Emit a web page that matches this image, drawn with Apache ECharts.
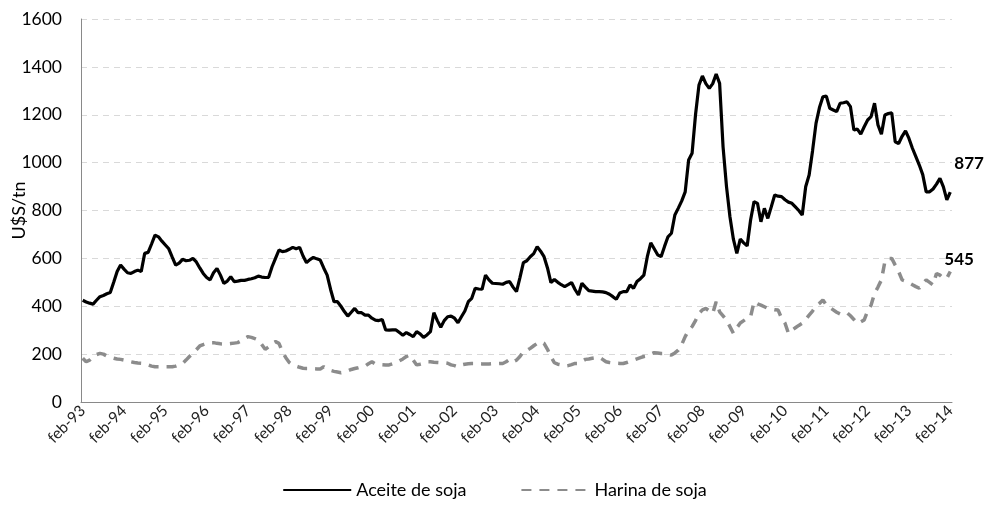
<!DOCTYPE html>
<html lang="es">
<head>
	<meta charset="UTF-8">
	<title>Aceite y harina de soja</title>
	<script src="https://cdn.jsdelivr.net/npm/echarts@6/dist/echarts.min.js"></script>
	<style>
		html, body { margin: 0; padding: 0; background: #ffffff; }
		#main { width: 989px; height: 514px; }
	</style>
</head>
<body>
<div id="main"></div>
<script>
// meses (la serie arranca en feb-93 y termina en feb-14)
var mesesNombres = ['ene','feb','mar','abr','may','jun','jul','ago','sep','oct','nov','dic'];
var anioInicio = 1993, mesInicio = 1, cantMeses = 253;

// U$S/tn, valores, un renglon por año (feb a ene)
var aceite = [
	425, 418, 413, 409, 425, 440, 445, 452, 457, 500, 545, 572,
	555, 540, 537, 545, 551, 545, 621, 625, 660, 697, 690, 672,
	656, 640, 605, 572, 580, 596, 590, 592, 600, 585, 560, 537,
	520, 510, 540, 558, 530, 496, 505, 523, 503, 505, 508, 508,
	512, 515, 519, 526, 522, 520, 521, 565, 600, 635, 628, 631,
	638, 646, 640, 646, 610, 582, 595, 604, 598, 593, 560, 530,
	470, 419, 419, 400, 378, 359, 375, 391, 373, 373, 363, 363,
	350, 342, 340, 345, 301, 300, 301, 301, 290, 279, 290, 282,
	273, 294, 285, 270, 280, 294, 373, 340, 312, 340, 356, 359,
	350, 331, 356, 380, 419, 433, 475, 472, 471, 530, 510, 496,
	495, 494, 492, 500, 503, 480, 461, 520, 582, 590, 607, 620,
	649, 630, 607, 560, 499, 512, 500, 490, 482, 490, 499, 470,
	447, 496, 480, 465, 463, 461, 461, 460, 457, 450, 440, 429,
	455, 461, 461, 489, 475, 503, 515, 530, 607, 665, 640, 615,
	607, 650, 690, 705, 781, 810, 840, 878, 1011, 1039, 1200, 1324,
	1362, 1330, 1310, 1330, 1370, 1331, 1066, 900, 774, 680, 621, 680,
	665, 652, 760, 837, 830, 753, 809, 767, 815, 865, 860, 858,
	845, 835, 830, 815, 800, 781, 899, 948, 1050, 1164, 1230, 1275,
	1278, 1227, 1220, 1213, 1248, 1250, 1254, 1234, 1136, 1140, 1119, 1150,
	1178, 1192, 1248, 1157, 1119, 1199, 1205, 1208, 1087, 1080, 1110, 1133,
	1101, 1060, 1025, 990, 950, 878, 878, 890, 910, 934, 899, 844,
	877
];
var harina = [
	183, 168, 175, 190, 198, 203, 200, 192, 187, 183, 180, 178,
	175, 170, 168, 165, 163, 162, 161, 155, 150, 147, 147, 147,
	147, 147, 147, 150, 155, 161, 175, 190, 203, 218, 234, 240,
	245, 248, 248, 245, 243, 242, 242, 244, 246, 248, 255, 265,
	273, 270, 265, 259, 240, 220, 230, 245, 252, 245, 210, 185,
	165, 155, 150, 145, 141, 140, 140, 139, 138, 138, 147, 138,
	132, 128, 125, 122, 125, 130, 136, 140, 143, 147, 150, 160,
	168, 159, 157, 156, 155, 155, 160, 168, 172, 180, 190, 196,
	175, 155, 158, 162, 168, 168, 166, 165, 164, 164, 162, 155,
	152, 147, 155, 158, 160, 161, 161, 160, 159, 159, 159, 160,
	160, 161, 161, 168, 178, 168, 175, 190, 210, 215, 224, 235,
	245, 252, 245, 220, 190, 164, 158, 155, 150, 152, 156, 161,
	161, 170, 178, 180, 183, 185, 187, 178, 168, 165, 163, 162,
	161, 161, 165, 170, 175, 180, 185, 190, 192, 200, 206, 205,
	203, 203, 200, 196, 205, 217, 240, 273, 300, 315, 340, 370,
	385, 391, 380, 370, 419, 377, 360, 342, 315, 287, 310, 330,
	340, 350, 356, 419, 410, 405, 398, 391, 388, 385, 384, 350,
	329, 287, 300, 310, 320, 329, 345, 363, 380, 400, 412, 426,
	405, 395, 385, 375, 368, 370, 373, 360, 345, 329, 335, 343,
	380, 405, 454, 480, 510, 586, 600, 600, 572, 545, 510, 505,
	498, 490, 482, 475, 495, 510, 500, 489, 537, 530, 517, 517,
	545
];
var yTicks = [0, 200, 400, 600, 800, 1000, 1200, 1400, 1600];

var fuente = 'Lato, "Noto Sans", sans-serif';

// armo las categorias mensuales (ej: feb-93)
var meses = [];
for (var i = 0; i < cantMeses; i++) {
	var idx = mesInicio + i;
	var anio = anioInicio + Math.floor(idx / 12);
	meses.push(mesesNombres[idx % 12] + '-' + String(anio).slice(2));
}

var myChart = echarts.init(document.getElementById('main'));
var option = {
	animation: false,
	textStyle: { fontFamily: fuente },
	grid: { left: 81, right: 37, top: 19, bottom: 112, outerBoundsMode: 'none' },
	legend: {
		bottom: 10,
		left: 'center',
		itemWidth: 68,
		itemHeight: 14,
		itemGap: 54,
		itemStyle: { color: 'transparent', borderColor: 'transparent', borderWidth: 0 },
		textStyle: { fontSize: 18, color: '#000', fontFamily: fuente },
		data: ['Aceite de soja', 'Harina de soja']
	},
	xAxis: {
		type: 'category',
		data: meses,
		boundaryGap: true,
		axisLine: { lineStyle: { color: '#898989', width: 1 } },
		axisTick: { show: false },
		axisLabel: {
			interval: 11,
			rotate: 45,
			margin: 6,
			fontSize: 15.5,
			color: '#222',
			fontFamily: fuente
		},
		splitLine: { show: false }
	},
	yAxis: {
		type: 'value',
		min: yTicks[0],
		max: yTicks[yTicks.length - 1],
		interval: 200,
		name: 'U$S/tn',
		nameLocation: 'middle',
		nameGap: 53,
		nameMoveOverlap: false,
		nameTextStyle: { fontSize: 18, color: '#000', fontFamily: fuente },
		axisLine: { show: true, lineStyle: { color: '#898989', width: 1 } },
		axisTick: { show: false },
		axisLabel: {
			fontSize: 17.5, color: '#000', margin: 19, fontFamily: fuente,
			formatter: function (v) { return String(v); }
		},
		splitLine: { lineStyle: { color: '#d9d9d9', type: [6, 5], width: 1 } }
	},
	series: [{
		name: 'Aceite de soja',
		type: 'line',
		symbol: 'none',
		color: '#000000',
		lineStyle: { color: '#000000', width: 3.2 },
		z: 3,
		endLabel: {
			show: true, position: 'right', distance: 4, offset: [0, -29],
			fontSize: 17, fontWeight: 'bold', color: '#000', fontFamily: fuente,
			formatter: function (p) { return String(p.value); }
		},
		data: aceite
	}, {
		name: 'Harina de soja',
		type: 'line',
		symbol: 'none',
		color: '#8c8c8c',
		lineStyle: { color: '#8c8c8c', width: 3.5, type: [10, 8] },
		z: 2,
		endLabel: {
			show: true, position: 'right', distance: 4, offset: [-10, -12],
			fontSize: 17, fontWeight: 'bold', color: '#000', fontFamily: fuente,
			formatter: function (p) { return String(p.value); }
		},
		data: harina
	}]
};
myChart.setOption(option);
</script>
</body>
</html>
